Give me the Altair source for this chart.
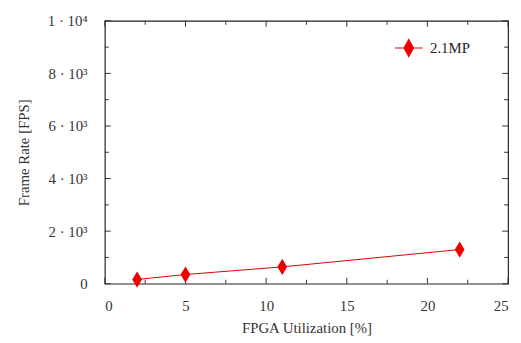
import altair as alt
import pandas as pd

util = [2, 5, 11, 22]
fps = [160, 350, 640, 1300]
series = ["2.1MP"] * 4

x_major = [0, 5, 10, 15, 20, 25]
x_minor = [2.5, 7.5, 12.5, 17.5, 22.5]
y_major = [0, 2000, 4000, 6000, 8000, 10000]
y_minor = [1000, 3000, 5000, 7000, 9000]

W, H = 408, 266
FONT = "Liberation Serif"

df = pd.DataFrame({"util": util, "fps": fps, "series": series})
xs = alt.Scale(domain=[0, 25], nice=False, zero=False)
ys = alt.Scale(domain=[0, 10000], nice=False, zero=False)

xaxis = alt.Axis(values=x_major, ticks=False, grid=False, domain=False,
                 labelPadding=15, titlePadding=7, format="d")
yaxis = alt.Axis(values=y_major, ticks=False, grid=False, domain=False,
                 labelPadding=18, titlePadding=16,
                 labelExpr="datum.value == 0 ? '0' : datum.value == 10000 ? '1 · 10⁴' : (datum.value/1000) + ' · 10³'")

color = alt.Color(
    "series:N",
    scale=alt.Scale(range=["#ee0000"]),
    legend=alt.Legend(
        title=None, orient="none", legendX=W - 110, legendY=18,
        symbolType="M-1.6,0L1.6,0M0,-1L0.55,0L0,1L-0.55,0Z",
        symbolSize=300, symbolStrokeWidth=1.2, symbolFillColor="#ff0000",
        symbolStrokeColor="#ee0000",
        labelFont=FONT, labelFontSize=15, labelColor="#222", labelOffset=12,
    ),
)

line = alt.Chart(df).mark_line(color="#dd0000", strokeWidth=1).encode(
    x=alt.X("util:Q", scale=xs, title="FPGA Utilization [%]", axis=xaxis),
    y=alt.Y("fps:Q", scale=ys, title="Frame Rate [FPS]", axis=yaxis),
)

pts = alt.Chart(df).mark_point(
    shape="M0,-1L0.6,0L0,1L-0.6,0Z", filled=True, opacity=1, size=270,
).encode(
    x=alt.X("util:Q", scale=xs, title="FPGA Utilization [%]", axis=xaxis),
    y=alt.Y("fps:Q", scale=ys, title="Frame Rate [FPS]", axis=yaxis),
    color=color,
)

def xticks(vals, ln):
    d = pd.DataFrame({"util": vals})
    enc = alt.X("util:Q", scale=xs, title="FPGA Utilization [%]", axis=xaxis)
    b = alt.Chart(d).mark_rule(color="#333", strokeWidth=1).encode(
        x=enc, y=alt.value(H), y2=alt.value(H - ln))
    t = alt.Chart(d).mark_rule(color="#333", strokeWidth=1).encode(
        x=enc, y=alt.value(0), y2=alt.value(ln))
    return [b, t]

def yticks(vals, ln):
    d = pd.DataFrame({"fps": vals})
    enc = alt.Y("fps:Q", scale=ys, title="Frame Rate [FPS]", axis=yaxis)
    l = alt.Chart(d).mark_rule(color="#333", strokeWidth=1).encode(
        y=enc, x=alt.value(0), x2=alt.value(ln))
    r = alt.Chart(d).mark_rule(color="#333", strokeWidth=1).encode(
        y=enc, x=alt.value(W), x2=alt.value(W - ln))
    return [l, r]

layers = [line] + xticks(x_major, 6) + xticks(x_minor, 4) + yticks(y_major, 6) + yticks(y_minor, 4) + [pts]

chart = alt.layer(*layers).properties(
    width=W, height=H, background="white",
    padding={"left": 98, "top": 11, "right": 5, "bottom": 58},
    autosize=alt.AutoSizeParams(type="none"),
).configure_view(
    stroke="#222", strokeWidth=1.2
).configure_axis(
    labelFont=FONT, labelFontSize=15, labelColor="#333",
    titleFont=FONT, titleFontSize=15, titleColor="#333", titleFontWeight="normal",
)

chart.save("out.html", embed_options={"renderer": "svg", "actions": False})
